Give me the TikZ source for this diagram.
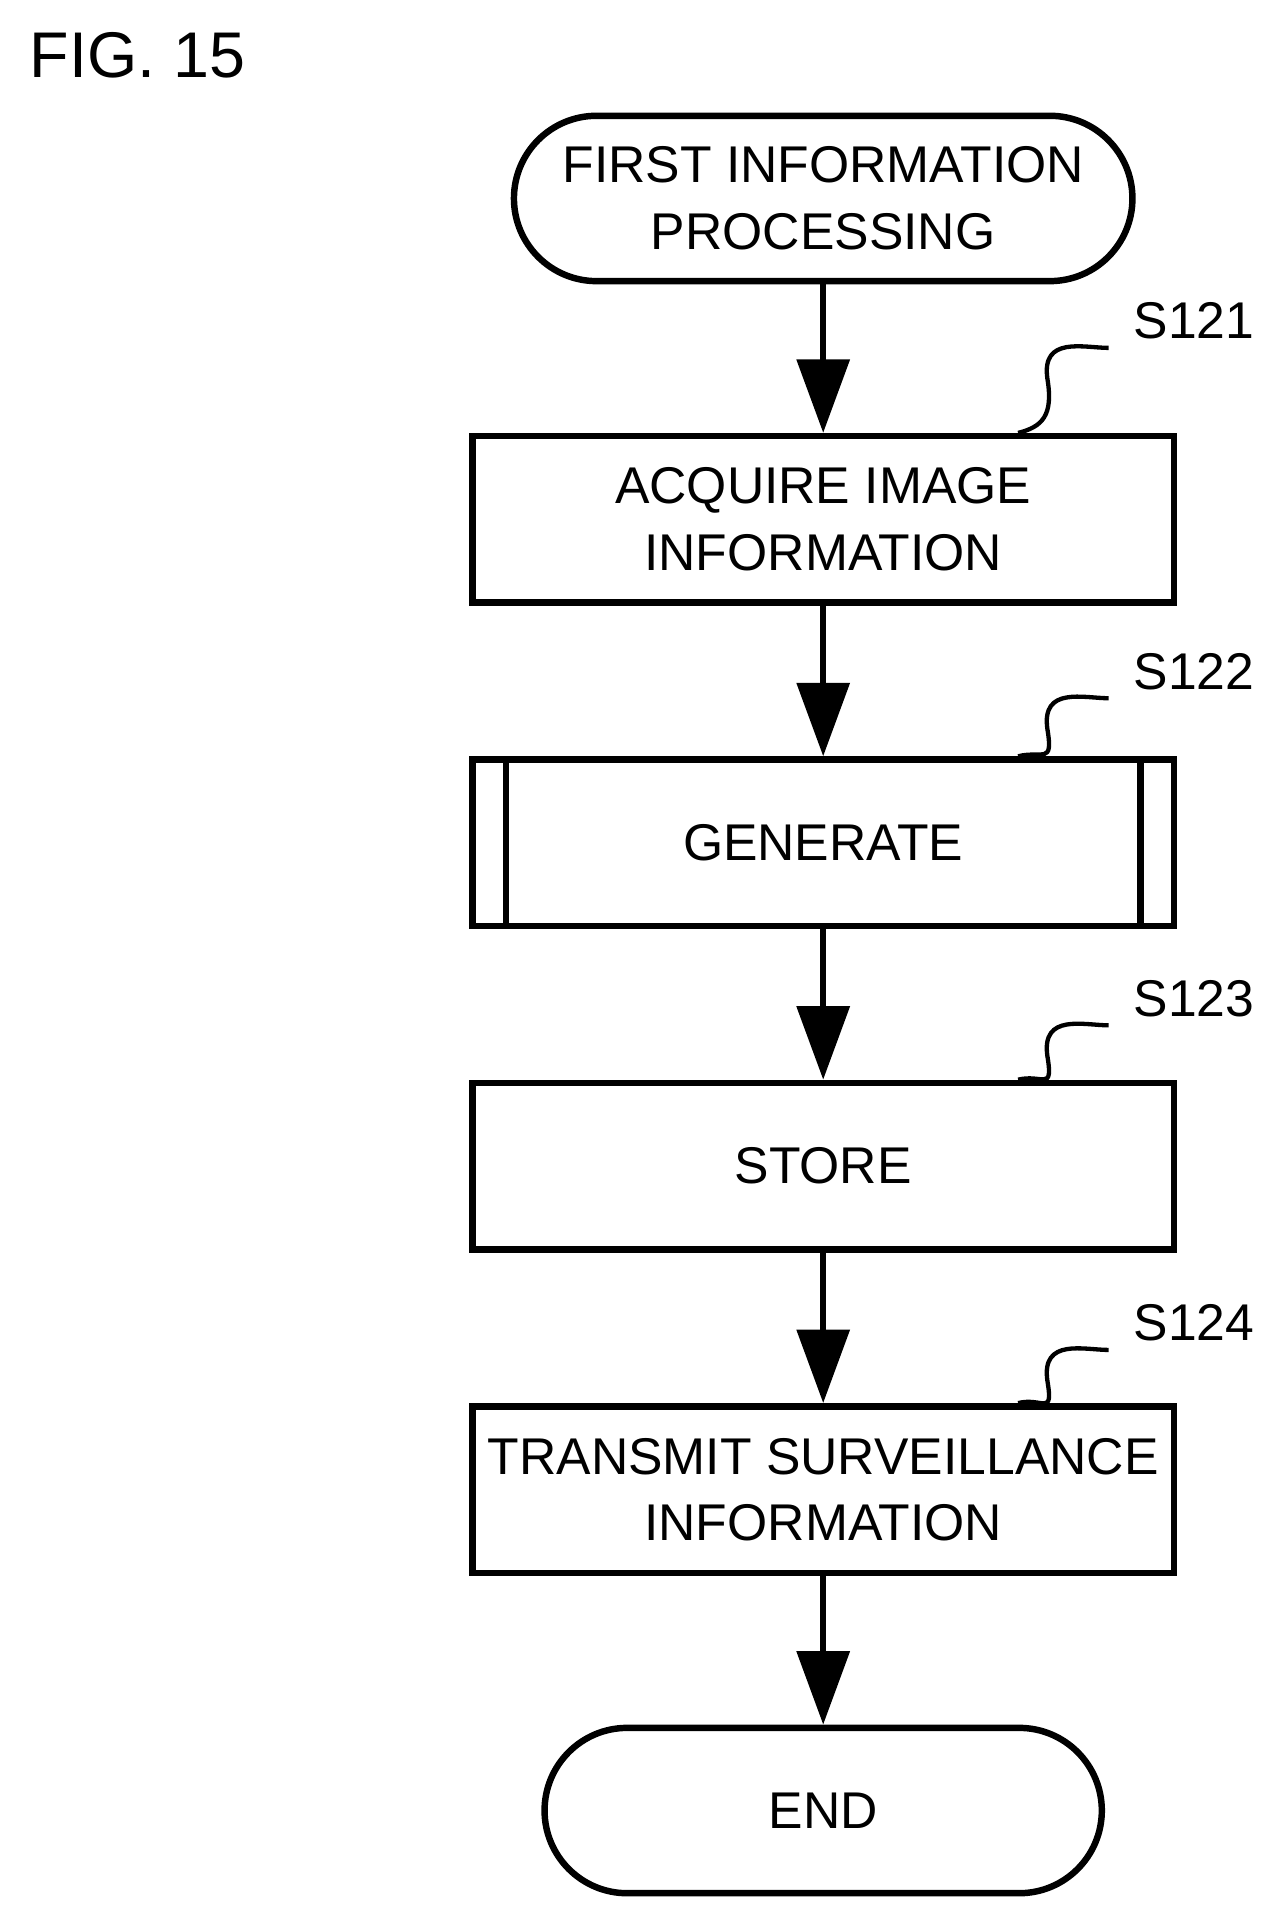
\documentclass[tikz,border=0pt]{standalone}
\usepackage{fontspec}
\setmainfont{Liberation Sans}
\usetikzlibrary{positioning,arrows.meta,calc}

\begin{document}
\begin{tikzpicture}[
      x=0.02cm, y=-0.02cm,
      font=\fontsize{24}{31}\selectfont,
      box/.style={draw, line width=3pt, align=center, inner xsep=0pt, minimum width=11.46cm, minimum height=2.72cm},
      term/.style={draw, line width=3pt, align=center, inner xsep=0pt, rounded corners=1.35cm, minimum height=2.7cm},
      arr/.style={line width=3pt, -{Triangle[length=1.2cm, width=0.85cm]}},
      steplbl/.style={anchor=west, inner sep=0pt},
      wave/.style={line width=2pt}
    ]
    \useasboundingbox (0,0) rectangle (1050,1569);
    \node[anchor=north west, font=\fontsize{30}{36}\selectfont] (fig) at (18,20) {FIG. 15};

    \node[term, minimum width=10.1cm] (start) at (672,162) {FIRST INFORMATION\\PROCESSING};
    \node[box] (s121) at (672,424) {ACQUIRE IMAGE\\INFORMATION};
    \node[box] (s122) at (672,688) {GENERATE};
    \node[box] (s123) at (672,952) {STORE};
    \node[box] (s124) at (672,1216) {TRANSMIT SURVEILLANCE\\INFORMATION};
    \node[term, minimum width=9.1cm] (end) at (672,1478) {END};

    % predefined process bars
    \draw[line width=3pt] ([xshift=0.6cm]s122.north west) -- ([xshift=0.6cm]s122.south west);
    \draw[line width=3pt] ([xshift=-0.6cm]s122.north east) -- ([xshift=-0.6cm]s122.south east);

    % step labels
    \foreach \s/\y in {121/262, 122/548, 123/815, 124/1080} {
      \node[steplbl] (l\s) at (925,\y) {S\s};
      \coordinate (w\s) at (905,\y+22);
      \draw[wave] ([xshift=-2.6cm]s\s.north east) .. controls +(20,-5) and +(5,30) .. ($(w\s)+(-50,25)$)
        .. controls +(-5,-35) and +(-20,0) .. (w\s);
    }

    \draw[arr] (start) -- (s121);
    \draw[arr] (s121) -- (s122);
    \draw[arr] (s122) -- (s123);
    \draw[arr] (s123) -- (s124);
    \draw[arr] (s124) -- (end);
  \end{tikzpicture}
\end{document}
